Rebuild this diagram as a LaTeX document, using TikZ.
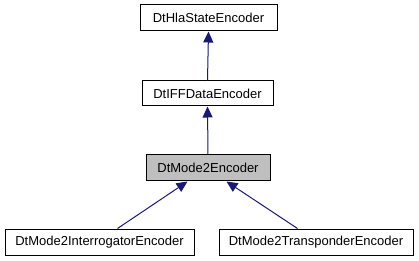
\documentclass[tikz,border=0pt]{standalone}
\usepackage{fontspec}
\setmainfont{Liberation Sans}
\usetikzlibrary{arrows.meta,calc}
\definecolor{edgeblue}{HTML}{191970}
\definecolor{hilite}{HTML}{BFBFBF}
\tikzset{
  cls/.style={draw=black, fill=white, line width=1pt, inner sep=0pt, minimum height=26pt,
    font=\fontsize{13}{16}\selectfont},
  edge/.style={draw=edgeblue, line width=1pt, -{Triangle[width=10pt,length=11pt]}}
}
\begin{document}
\begin{tikzpicture}[x=1pt,y=1pt]
\useasboundingbox (0,0) rectangle (419,-261);
\node[cls, minimum width=137pt] (A) at (208.5,-18) {DtHlaStateEncoder};
\node[cls, minimum width=131pt, minimum height=25pt] (B) at (207.5,-93.5) {DtIFFDataEncoder};
\node[cls, minimum width=124pt, fill=hilite] (C) at (208,-168) {DtMode2Encoder};
\node[cls, minimum width=189pt] (D) at (99.5,-242) {DtMode2InterrogatorEncoder};
\node[cls, minimum width=194pt] (E) at (316,-242) {DtMode2TransponderEncoder};
\draw[edge] (B.north) -- (A.south);
\draw[edge] (C.north) -- (B.south);
\draw[edge] ($(D.north west)+(113,0)$) -- ($(C.south west)+(42,0)$);
\draw[edge] ($(E.north west)+(79,0)$) -- ($(C.south west)+(81,0)$);
\end{tikzpicture}
\end{document}
